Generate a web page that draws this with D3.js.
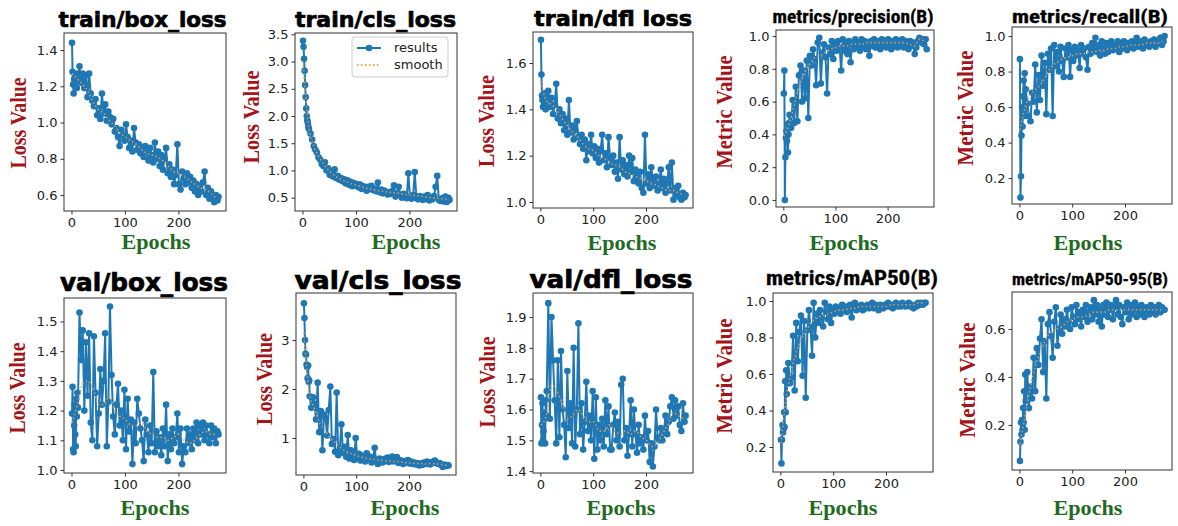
<!DOCTYPE html>
<html lang="en">
<head>
<meta charset="UTF-8">
<title>Training curves</title>
<script src="https://cdn.jsdelivr.net/npm/d3@7"></script>
<style>
  body { margin: 0; background: #fff; }
  svg { display: block; }
  .tick text { font-family: "DejaVu Sans", sans-serif; font-size: 13px; fill: #222; }
  .tick line { stroke: #333; }
  .frame { fill: none; stroke: #333; stroke-width: 1; }
  .title { font-family: "DejaVu Sans", sans-serif; font-weight: bold; fill: #000; stroke: #000; stroke-width: 0.7; }
  .title.narrow { font-family: "Liberation Sans Narrow", "Roboto Condensed", "Liberation Sans", sans-serif; stroke-width: 0.3; }
  .ylab { font-family: "Liberation Serif", serif; font-weight: bold; fill: #a3151a; font-size: 23px; }
  .xlab { font-family: "Liberation Serif", serif; font-weight: bold; fill: #1f6b1f; font-size: 22px; }
  .legend text { font-family: "DejaVu Sans", sans-serif; font-size: 13px; fill: #222; }
</style>
</head>
<body>
<svg id="chart" width="1178" height="526"></svg>
<script>
// epochs: every epoch at the start, then every third one
var epochs = d3.range(1, 13).concat(d3.range(15, 274, 3), [275]);
var smoothEpochs = d3.range(1, 272, 10);
var xTicks = [0, 100, 200];

var trainBox = [1.44,1.28,1.21,1.16,1.24,1.22,1.20,1.25,1.23,1.19,1.27,1.24,
  1.31,1.22,1.27,1.19,1.26,1.14,1.27,1.16,1.12,1.09,
  1.13,1.04,1.08,1.02,1.16,1.05,1.10,1.01,1.06,1.03,
  0.99,1.02,0.95,0.97,0.92,0.87,0.96,0.93,0.90,0.99,
  0.92,0.86,0.90,0.84,0.97,0.89,0.85,0.88,0.83,0.86,
  0.81,0.87,0.84,0.79,0.86,0.82,0.78,0.89,0.80,0.84,
  0.76,0.82,0.74,0.80,0.86,0.72,0.77,0.70,0.74,0.66,
  0.71,0.88,0.66,0.63,0.73,0.69,0.66,0.72,0.67,0.70,
  0.64,0.68,0.62,0.66,0.60,0.65,0.62,0.67,0.73,0.60,
  0.64,0.58,0.62,0.59,0.56,0.60,0.57,0.59];
var trainBoxSmooth = [1.27,1.24,1.21,1.17,1.11,1.07,1.05,1.01,0.98,0.94,0.92,0.90,0.88,0.85,
  0.83,0.82,0.81,0.79,0.76,0.73,0.72,0.70,0.68,0.66,0.64,0.63,0.61,0.58];

var trainCls = [3.38,3.27,3.05,2.83,2.57,2.35,2.14,2.00,1.92,1.87,1.80,1.76,
  1.68,1.57,1.45,1.38,1.33,1.24,1.20,1.12,1.08,1.15,
  1.00,1.04,0.92,0.98,0.89,1.02,0.86,0.90,0.83,0.86,
  0.80,0.84,0.76,0.82,0.74,0.79,0.71,0.77,0.72,0.75,
  0.69,0.74,0.66,0.71,0.68,0.63,0.70,0.66,0.72,0.64,
  0.67,0.62,0.78,0.60,0.65,0.58,0.63,0.61,0.56,0.60,
  0.57,0.62,0.73,0.52,0.58,0.70,0.55,0.50,0.57,0.53,
  0.49,0.95,0.52,0.48,0.55,0.97,0.50,0.47,0.53,0.49,
  0.46,0.52,0.48,0.55,0.45,0.50,0.47,0.53,0.70,0.90,
  0.46,0.44,0.49,0.43,0.52,0.42,0.50,0.46];
var trainClsSmooth = [3.00,1.85,1.45,1.25,1.10,0.98,0.90,0.84,0.80,0.76,0.73,0.70,0.67,0.65,
  0.63,0.62,0.60,0.59,0.58,0.56,0.55,0.54,0.53,0.51,0.50,0.49,0.48,0.47];

var trainDfl = [1.70,1.55,1.46,1.44,1.41,1.45,1.42,1.47,1.43,1.40,1.46,1.44,
  1.48,1.41,1.45,1.38,1.42,1.51,1.36,1.40,1.34,1.38,
  1.31,1.36,1.29,1.44,1.30,1.33,1.27,1.31,1.35,1.28,
  1.25,1.29,1.23,1.27,1.18,1.25,1.22,1.29,1.21,1.24,
  1.19,1.23,1.17,1.22,1.29,1.18,1.21,1.15,1.28,1.19,
  1.16,1.20,1.13,1.17,1.10,1.28,1.14,1.18,1.12,1.16,
  1.11,1.20,1.13,1.19,1.09,1.14,1.11,1.08,1.13,1.06,
  1.04,1.29,1.08,1.12,1.06,1.15,1.09,1.07,1.11,1.05,
  1.08,1.14,1.06,1.10,1.04,1.08,1.15,1.05,1.17,1.01,
  1.06,1.03,1.07,1.02,1.01,1.04,1.02,1.03];
var trainDflSmooth = [1.52,1.44,1.42,1.40,1.36,1.33,1.30,1.28,1.25,1.23,1.22,1.20,1.19,1.17,
  1.16,1.15,1.13,1.12,1.11,1.10,1.09,1.08,1.07,1.06,1.05,1.05,1.04,1.03];

var precision = [0.65,0.79,0.00,0.26,0.38,0.42,0.36,0.46,0.29,0.40,0.47,0.52,
  0.44,0.61,0.47,0.69,0.48,0.76,0.82,0.60,0.79,0.62,
  0.85,0.50,0.88,0.82,0.92,0.86,0.70,0.96,0.99,0.71,
  0.90,0.95,0.87,0.65,0.93,0.89,0.97,0.86,0.95,0.91,
  0.97,0.93,0.79,0.98,0.91,0.96,0.89,0.97,0.84,0.95,
  0.92,0.98,0.93,0.96,0.91,0.98,0.94,0.97,0.92,0.96,
  0.88,0.97,0.94,0.98,0.93,0.97,0.95,0.92,0.98,0.94,
  0.97,0.93,0.98,0.95,0.92,0.97,0.94,0.98,0.93,0.96,
  0.94,0.98,0.93,0.97,0.95,0.92,0.97,0.94,0.96,0.89,
  0.93,0.97,0.99,0.96,0.98,0.95,0.98,0.92];
var precisionSmooth = [0.39,0.46,0.58,0.70,0.78,0.83,0.87,0.88,0.90,0.92,0.93,0.94,0.94,0.95,
  0.95,0.95,0.96,0.96,0.96,0.96,0.96,0.96,0.96,0.96,0.95,0.94,0.98,0.97];

var recall = [0.87,0.09,0.21,0.44,0.60,0.49,0.66,0.75,0.58,0.79,0.55,0.70,
  0.62,0.55,0.52,0.68,0.63,0.84,0.57,0.78,0.64,0.89,
  0.72,0.85,0.56,0.90,0.81,0.93,0.55,0.95,0.83,0.91,
  0.80,0.94,0.86,0.77,0.93,0.88,0.95,0.77,0.92,0.86,
  0.94,0.89,0.92,0.82,0.95,0.90,0.93,0.88,0.81,0.94,
  0.90,0.96,0.92,0.99,0.91,0.95,0.89,0.97,0.93,0.90,
  0.96,0.91,0.94,0.97,0.92,0.95,0.93,0.97,0.91,0.96,
  0.93,0.97,0.94,0.92,0.96,0.94,0.97,0.93,0.95,0.99,
  0.94,0.97,0.95,0.93,0.98,0.95,0.96,0.94,0.97,0.95,
  0.98,0.94,0.97,0.96,0.99,0.95,0.97,1.00];
var recallSmooth = [0.47,0.60,0.67,0.70,0.73,0.78,0.83,0.85,0.87,0.88,0.89,0.90,0.90,0.91,
  0.91,0.92,0.92,0.93,0.93,0.94,0.94,0.95,0.95,0.95,0.96,0.96,0.96,0.97];

var valBox = [1.19,1.28,1.07,1.06,1.15,1.22,1.12,1.08,1.24,1.18,1.26,1.21,
  1.53,1.37,1.47,1.20,1.43,1.25,1.46,1.16,1.10,1.45,
  1.26,1.08,1.19,1.34,1.22,1.30,1.46,1.08,1.23,1.55,
  1.32,1.18,1.12,1.22,1.29,1.15,1.20,1.10,1.27,1.07,
  1.24,1.13,1.17,1.02,1.16,1.09,1.24,1.19,1.14,1.10,
  1.03,1.17,1.12,1.06,1.15,1.09,1.33,1.06,1.13,1.08,
  1.11,1.05,1.14,1.08,1.22,1.03,1.12,1.07,1.14,1.09,
  1.11,1.19,1.06,1.14,1.02,1.08,1.06,1.14,1.09,1.12,
  1.07,1.14,1.10,1.16,1.09,1.15,1.12,1.16,1.10,1.15,
  1.12,1.09,1.15,1.11,1.14,1.09,1.13,1.12];
var valBoxSmooth = [1.16,1.22,1.29,1.30,1.27,1.22,1.22,1.25,1.20,1.18,1.17,1.15,1.15,1.16,
  1.13,1.12,1.11,1.11,1.10,1.11,1.12,1.10,1.09,1.10,1.12,1.13,1.12,1.12];

var valCls = [3.75,3.45,3.00,2.72,2.70,2.50,2.45,2.22,2.48,2.15,2.18,1.85,
  1.62,1.83,1.70,1.38,2.13,1.12,1.55,0.75,1.48,1.40,
  1.05,1.57,2.05,0.88,0.98,0.72,1.93,0.65,0.78,1.28,
  0.70,0.82,0.62,1.06,0.58,0.75,0.66,0.55,1.00,0.60,
  0.68,0.54,0.64,0.58,0.52,0.69,0.56,0.62,0.50,0.58,
  0.80,0.52,0.47,0.58,0.55,0.50,0.57,0.53,0.60,0.51,
  0.56,0.62,0.52,0.58,0.61,0.49,0.55,0.51,0.47,0.53,
  0.50,0.55,0.48,0.52,0.47,0.50,0.46,0.49,0.44,0.48,
  0.45,0.50,0.47,0.52,0.48,0.46,0.51,0.49,0.54,0.50,
  0.47,0.49,0.45,0.41,0.46,0.43,0.45,0.44];
var valClsSmooth = [3.15,1.95,1.60,1.30,1.15,1.00,0.90,0.80,0.72,0.68,0.64,0.61,0.58,0.57,
  0.55,0.54,0.53,0.52,0.52,0.50,0.49,0.48,0.48,0.47,0.48,0.47,0.46,0.44];

var valDfl = [1.64,1.49,1.55,1.62,1.50,1.53,1.59,1.57,1.49,1.63,1.58,1.66,
  1.945,1.57,1.90,1.76,1.63,1.49,1.76,1.51,1.79,1.60,
  1.55,1.445,1.725,1.54,1.62,1.49,1.80,1.48,1.60,1.88,
  1.52,1.62,1.47,1.56,1.69,1.53,1.58,1.50,1.66,1.44,
  1.64,1.47,1.55,1.50,1.57,1.48,1.63,1.52,1.61,1.47,
  1.47,1.55,1.59,1.50,1.56,1.48,1.68,1.70,1.50,1.54,
  1.45,1.52,1.63,1.48,1.60,1.52,1.46,1.55,1.49,1.51,
  1.47,1.58,1.50,1.53,1.43,1.49,1.415,1.48,1.60,1.51,
  1.50,1.54,1.50,1.53,1.58,1.52,1.56,1.61,1.64,1.57,
  1.63,1.58,1.61,1.55,1.53,1.62,1.56,1.58];
var valDflSmooth = [1.55,1.58,1.68,1.66,1.62,1.57,1.58,1.60,1.58,1.56,1.56,1.53,1.53,1.55,
  1.53,1.52,1.53,1.52,1.53,1.51,1.50,1.48,1.49,1.52,1.55,1.59,1.58,1.57];

var map50 = [0.24,0.11,0.24,0.32,0.28,0.30,0.39,0.31,0.56,0.39,0.62,0.49,
  0.66,0.55,0.58,0.81,0.51,0.88,0.67,0.83,0.92,0.59,
  0.89,0.47,0.84,0.95,0.86,0.70,0.99,0.80,0.93,0.88,
  0.95,0.91,0.86,0.99,0.94,0.90,0.97,0.88,0.95,0.93,
  0.97,0.94,0.96,0.93,0.98,0.95,0.97,0.94,0.96,0.98,
  0.91,0.97,0.99,0.95,0.97,0.96,0.98,0.95,0.97,0.96,
  0.98,0.96,0.97,0.99,0.96,0.98,0.97,0.95,0.98,0.97,
  0.96,0.98,0.97,0.99,0.97,0.98,0.96,0.98,0.99,0.97,
  0.98,0.97,0.99,0.98,0.97,0.98,0.99,0.97,0.98,0.96,
  0.98,0.97,0.99,0.98,0.99,0.98,0.99,0.99];
var map50Smooth = [0.22,0.47,0.62,0.73,0.80,0.85,0.89,0.91,0.92,0.93,0.94,0.95,0.95,0.96,
  0.96,0.97,0.97,0.97,0.97,0.97,0.97,0.98,0.98,0.98,0.98,0.98,0.99,0.99];

var map5095 = [0.05,0.13,0.21,0.16,0.22,0.18,0.27,0.21,0.34,0.18,0.41,0.30,
  0.42,0.27,0.36,0.31,0.48,0.34,0.52,0.45,0.56,0.64,
  0.42,0.55,0.31,0.62,0.67,0.57,0.48,0.63,0.69,0.53,
  0.60,0.66,0.58,0.64,0.61,0.68,0.63,0.60,0.69,0.65,
  0.62,0.70,0.64,0.67,0.61,0.68,0.65,0.70,0.63,0.67,
  0.69,0.64,0.72,0.66,0.70,0.63,0.68,0.61,0.70,0.66,
  0.71,0.65,0.68,0.70,0.64,0.69,0.72,0.66,0.70,0.65,
  0.62,0.69,0.67,0.71,0.64,0.70,0.66,0.68,0.71,0.65,
  0.69,0.66,0.70,0.67,0.65,0.69,0.68,0.66,0.70,0.67,
  0.69,0.66,0.68,0.70,0.67,0.69,0.68,0.68];
var map5095Smooth = [0.12,0.24,0.36,0.45,0.51,0.56,0.59,0.60,0.61,0.63,0.64,0.65,0.65,0.66,
  0.67,0.67,0.67,0.68,0.68,0.68,0.68,0.68,0.68,0.68,0.68,0.68,0.68,0.68];

// panel setup: box = [left, top, right, bottom]; t = title [cx, baseline, length, size]
// yl = y label [x, cy, length]; xl = x label [cx, baseline]
var panels = [
  {title: "train/box_loss", ylab: "Loss Value", y: trainBox, s: trainBoxSmooth, dom: [0.512, 1.494], ticks: [0.6, 0.8, 1.0, 1.2, 1.4], fmt: ".1f",
   box: [64, 33, 226, 211], t: [142.5, 27, 168, 21], yl: [26, 123, 91], xl: [156, 249]},
  {title: "train/cls_loss", ylab: "Loss Value", y: trainCls, s: trainClsSmooth, dom: [0.256, 3.524], ticks: [0.5, 1.0, 1.5, 2.0, 2.5, 3.0, 3.5], fmt: ".1f",
   box: [295, 33, 457, 211], t: [375.5, 27, 161, 21], yl: [259, 117, 93], xl: [406, 249], legend: true},
  {title: "train/dfl loss", ylab: "Loss Value", y: trainDfl, s: trainDflSmooth, dom: [0.974, 1.734], ticks: [1.0, 1.2, 1.4, 1.6], fmt: ".1f",
   box: [533, 32, 693, 208], t: [613, 26, 158, 21], yl: [494, 121, 92], xl: [622, 250]},
  {title: "metrics/precision(B)", ylab: "Metric Value", y: precision, s: precisionSmooth, dom: [-0.043, 1.037], ticks: [0, 0.2, 0.4, 0.6, 0.8, 1.0], fmt: ".1f",
   box: [776, 30, 934, 207], t: [853, 23, 161, 18], yl: [732, 112, 113], xl: [844, 250], narrow: true},
  {title: "metrics/recall(B)", ylab: "Metric Value", y: recall, s: recallSmooth, dom: [0.054, 1.051], ticks: [0.2, 0.4, 0.6, 0.8, 1.0], fmt: ".1f",
   box: [1012, 27, 1172, 204], t: [1090, 23, 156, 18], yl: [973, 108, 115], xl: [1088, 250], narrow: true},
  {title: "val/box_loss", ylab: "Loss Value", y: valBox, s: valBoxSmooth, dom: [0.99, 1.579], ticks: [1.0, 1.1, 1.2, 1.3, 1.4, 1.5], fmt: ".1f",
   box: [64, 298, 226, 473], t: [144, 291, 168, 24], yl: [25, 388, 91], xl: [155, 515]},
  {title: "val/cls_loss", ylab: "Loss Value", y: valCls, s: valClsSmooth, dom: [0.245, 3.96], ticks: [1, 2, 3], fmt: "d",
   box: [296, 293, 456, 475], t: [378, 289, 167, 24], yl: [272, 379, 92], xl: [405, 515]},
  {title: "val/dfl_loss", ylab: "Loss Value", y: valDfl, s: valDflSmooth, dom: [1.394, 1.978], ticks: [1.4, 1.5, 1.6, 1.7, 1.8, 1.9], fmt: ".1f",
   box: [533, 293, 693, 473], t: [611, 288, 163, 24], yl: [495, 382, 91], xl: [621, 515]},
  {title: "metrics/mAP50(B)", ylab: "Metric Value", y: map50, s: map50Smooth, dom: [0.063, 1.044], ticks: [0.2, 0.4, 0.6, 0.8, 1.0], fmt: ".1f",
   box: [773, 293, 933, 472], t: [852, 285, 172, 20], yl: [732, 376, 115], xl: [843, 515], narrow: true},
  {title: "metrics/mAP50-95(B)", ylab: "Metric Value", y: map5095, s: map5095Smooth, dom: [0.012, 0.754], ticks: [0.2, 0.4, 0.6], fmt: ".1f",
   box: [1012, 292, 1172, 470], t: [1090, 285, 156, 17], yl: [975, 380, 115], xl: [1088, 515], narrow: true}
];

var blue = "#1f77b4", orange = "#ff7f0e";
var svg = d3.select("#chart");

panels.forEach(function(p, k) {
  var b = p.box;
  var x = d3.scaleLinear().domain([-14, 289]).range([b[0], b[2]]);
  var y = d3.scaleLinear().domain(p.dom).range([b[3], b[1]]);
  var g = svg.append("g");

  g.append("clipPath").attr("id", "clip" + k)
    .append("rect").attr("x", b[0]).attr("y", b[1]).attr("width", b[2] - b[0]).attr("height", b[3] - b[1]);

  var pts = epochs.map(function(e, i) { return [e, p.y[i]]; });
  var spts = smoothEpochs.map(function(e, i) { return [e, p.s[i]]; });

  var line = d3.line().x(function(d) { return x(d[0]); }).y(function(d) { return y(d[1]); });
  var plot = g.append("g").attr("clip-path", "url(#clip" + k + ")");

  plot.append("path").datum(pts)
    .attr("d", line).attr("fill", "none").attr("stroke", blue).attr("stroke-width", 2);
  plot.selectAll("circle").data(pts).enter().append("circle")
    .attr("cx", function(d) { return x(d[0]); })
    .attr("cy", function(d) { return y(d[1]); })
    .attr("r", 3.3).attr("fill", blue);
  plot.append("path").datum(spts)
    .attr("d", line.curve(d3.curveMonotoneX)).attr("fill", "none")
    .attr("stroke", "#d49a5c").attr("stroke-width", 1.6)
    .attr("stroke-dasharray", "1.5,2.5");

  g.append("rect").attr("class", "frame")
    .attr("x", b[0]).attr("y", b[1]).attr("width", b[2] - b[0]).attr("height", b[3] - b[1]);

  g.append("g").attr("transform", "translate(" + b[0] + ",0)")
    .call(d3.axisLeft(y).tickValues(p.ticks).tickFormat(d3.format(p.fmt)).tickSize(3.5).tickPadding(3))
    .call(function(a) { a.select(".domain").remove(); });
  g.append("g").attr("transform", "translate(0," + b[3] + ")")
    .call(d3.axisBottom(x).tickValues(xTicks).tickSize(3.5).tickPadding(3))
    .call(function(a) { a.select(".domain").remove(); });

  g.append("text").attr("class", "title" + (p.narrow ? " narrow" : ""))
    .attr("x", p.t[0]).attr("y", p.t[1]).attr("text-anchor", "middle")
    .attr("font-size", p.t[3]).attr("textLength", p.t[2]).attr("lengthAdjust", "spacingAndGlyphs")
    .text(p.title);

  g.append("text").attr("class", "ylab")
    .attr("transform", "translate(" + p.yl[0] + "," + p.yl[1] + ") rotate(-90)")
    .attr("text-anchor", "middle").attr("textLength", p.yl[2]).attr("lengthAdjust", "spacingAndGlyphs")
    .text(p.ylab);

  g.append("text").attr("class", "xlab")
    .attr("x", p.xl[0]).attr("y", p.xl[1]).attr("text-anchor", "middle")
    .attr("textLength", 69).attr("lengthAdjust", "spacingAndGlyphs")
    .text("Epochs");

  if (p.legend) {
    var lg = g.append("g").attr("class", "legend");
    lg.append("rect").attr("x", 352).attr("y", 37).attr("width", 96).attr("height", 40)
      .attr("rx", 3).attr("fill", "#fff").attr("stroke", "#ccc");
    lg.append("line").attr("x1", 357).attr("x2", 381).attr("y1", 48).attr("y2", 48)
      .attr("stroke", blue).attr("stroke-width", 2);
    lg.append("circle").attr("cx", 369).attr("cy", 48).attr("r", 3.3).attr("fill", blue);
    lg.append("line").attr("x1", 357).attr("x2", 381).attr("y1", 65).attr("y2", 65)
      .attr("stroke", orange).attr("stroke-width", 1.5).attr("stroke-dasharray", "1.5,2.5");
    lg.append("text").attr("x", 394).attr("y", 52).text("results");
    lg.append("text").attr("x", 394).attr("y", 69).text("smooth");
  }
});
</script>
</body>
</html>
